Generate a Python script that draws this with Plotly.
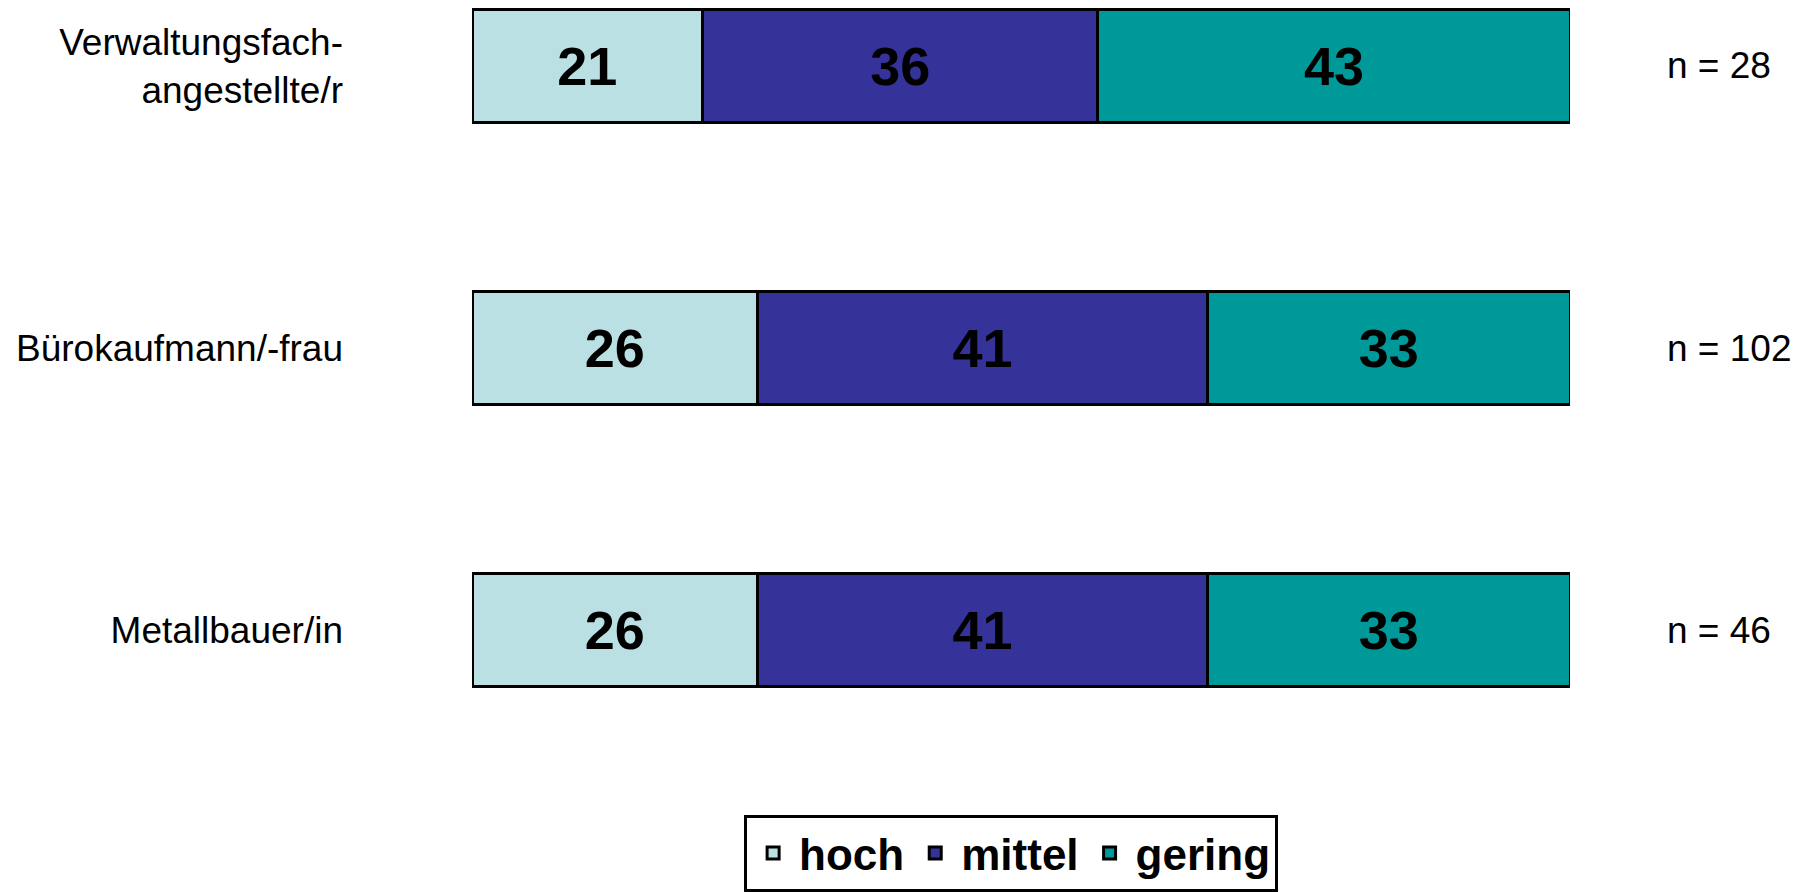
import plotly.graph_objects as go

categories = ["Verwaltungsfach-<br>angestellte/r", "Bürokaufmann/-frau", "Metallbauer/in"]
hoch = [21, 26, 26]
mittel = [36, 41, 41]
gering = [43, 33, 33]
n_labels = ["n = 28", "n = 102", "n = 46"]
series_names = ["hoch", "mittel", "gering"]
colors = ["#BAE0E3", "#353399", "#009999"]

FONT = "Arial, Liberation Sans, sans-serif"

fig = go.Figure()
for name, vals, col in zip(series_names, [hoch, mittel, gering], colors):
    fig.add_trace(go.Bar(
        name=name, y=categories, x=vals, orientation="h",
        marker=dict(color=col, line=dict(color="black", width=3)),
        text=vals, textposition="inside", insidetextanchor="middle",
        textangle=0, constraintext="none",
        textfont=dict(family=FONT, size=54, color="black", weight="bold"),
        width=0.4,
    ))

for cat, lab in zip(categories, n_labels):
    fig.add_annotation(x=1.0865, xref="paper", y=cat, yref="y", text=lab,
                       showarrow=False, xanchor="left", yanchor="middle",
                       font=dict(family=FONT, size=37, color="black"))

fig.update_layout(
    barmode="stack",
    width=1794, height=892,
    margin=dict(l=472, r=224, t=0, b=132),
    paper_bgcolor="white", plot_bgcolor="white",
    font=dict(family=FONT, color="black"),
    xaxis=dict(range=[0, 100], visible=False, fixedrange=True),
    yaxis=dict(type="category", range=[2.452, -0.233], showgrid=False, zeroline=False,
               showline=False, ticks="", ticklabelstandoff=128,
               tickfont=dict(family=FONT, size=37, color="black")),
    showlegend=True,
    legend=dict(orientation="h", x=0.491, xanchor="center", y=-0.075, yanchor="top",
                bordercolor="black", borderwidth=3, bgcolor="white",
                font=dict(family=FONT, size=44, color="black", weight="bold"),
                traceorder="normal", itemwidth=42),
)

fig.write_html("out.html", config={"displayModeBar": False},
               post_script="document.body.style.margin='0';")
